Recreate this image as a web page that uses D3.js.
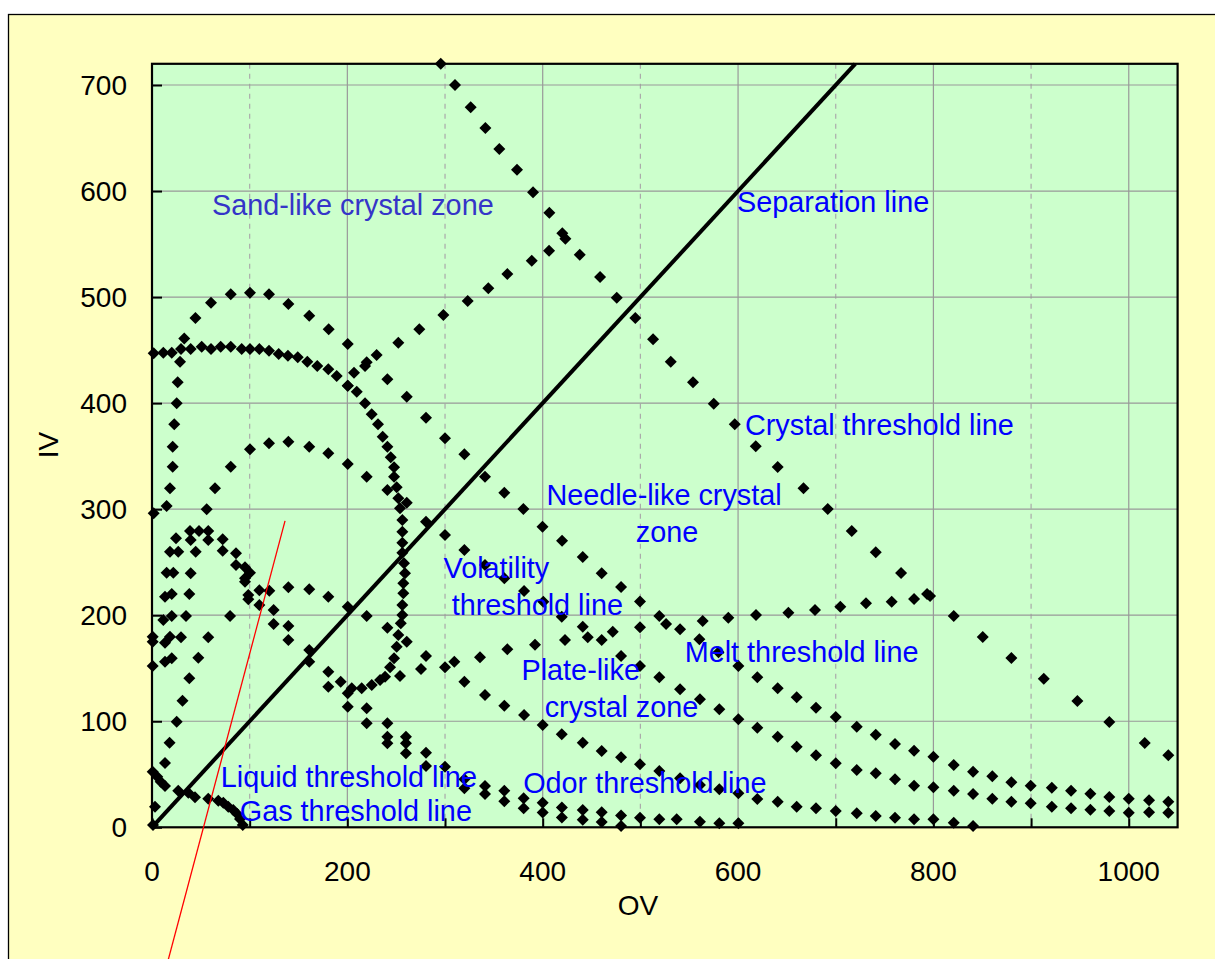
<!DOCTYPE html>
<html><head><meta charset="utf-8">
<script src="https://cdn.jsdelivr.net/npm/d3@7"></script>
<style>body{margin:0;background:#fff}svg{display:block}</style>
</head><body>
<svg id="c" width="1215" height="959"></svg>
<script>
const xTickLabels=[0,200,400,600,800,1000];
const yTickLabels=[0,100,200,300,400,500,600,700];
const xTickMarks=[0,100,200,300,400,500,600,700,800,900,1000];
const xLabel="OV", yLabel="IV";

const crystalLine=[[295.6,720],[310.2,700],[326.3,679],[341.3,659.5],[355.6,639.7],[373.7,620.1],[390.1,598.8],[406.8,579.6],[420.1,560.2],[437.9,540],[458.7,519],[475.8,499.4],[494.8,480.3],[513,460.2],[531.1,439.1],[553.9,419.7],[575.1,399.5],[596.6,380],[618.1,359.3],[640.6,339.8],[667,319.8],[691.8,300.2],[716.4,279.4],[741,259.3],[766.9,239.8],[793.5,220],[796.6,218.1],[820.8,199.3],[850.5,179.5],[879.8,159.7],[913,140.1],[947.4,119.1],[980.1,99.3],[1016.4,79.5],[1040.5,67.9]];

const needleLine=[[200.4,416.4],[206.8,428.7],[219.8,438.5],[230,445.4],[252.2,457],[273.7,469.6],[298.3,483.1],[323.2,496.3],[344.3,508.3],[363.8,521.8],[388.8,534.3],[406.5,543.7],[423.2,555.1]];

const volatilityLine=[[1.7,296.1],[15,303],[18.4,319.7],[21.2,340.1],[21.2,358.9],[22.8,380],[25.3,399.8],[26.3,419.7],[28.7,439.1],[33,461],[44.5,480.3],[60.4,494.6],[80.6,502.6],[100.3,504.2],[119.8,502.6],[139.6,493.5],[161,482.5],[180.9,469.6],[200.4,455.8],[218.1,435],[241,422.5],[260.8,406.1],[280.5,386.3],[300,366.8],[319.8,351.8],[340.9,330.6],[360.7,315.5],[380.2,300.2],[399.8,283.5],[419.8,270.3],[441,254.9],[460.4,239.5],[480.2,226.6],[499.6,213],[519.4,199.3],[540.6,186.7],[560.4,177.3],[580,165],[600.3,152.1],[619.7,141.5],[640.6,131.1],[660,122.6],[679.8,112.8],[700,104],[721.5,94.9],[741,87.3],[760.7,78.6],[780.2,72.2],[800,66.6],[820.8,58.8],[840.6,52.4],[860.3,48.1],[879.8,42.4],[899.6,39.2],[921.2,37.3],[940.9,34.5],[960.7,31.7],[980.1,28.6],[1000,27],[1020.8,25.5],[1040.5,24.1]];

const ringLine=[[1.7,447],[11.6,447.6],[20.2,447.6],[29.7,451],[39.6,451],[50.9,453.2],[60.4,451],[70.3,453.2],[80.6,453.2],[91.8,451],[100.3,451],[109.9,451],[119.8,449.5],[129.7,446.3],[139.2,444.7],[149.2,443.2],[159,439.1],[169.2,435],[180.5,431.9],[189.1,425.6],[200.4,416.4],[209.6,410.8],[218.1,399.8],[224.9,389.5],[231.4,380],[236.2,368.4],[241,358.9],[244.4,348.9],[247.8,339.5],[247.8,330.6],[250.5,320.6],[252.2,310.3],[253.9,300.8],[256.3,289.8],[256.3,278.8],[256.3,268.4],[256.3,259],[258,249],[259,239.5],[257.3,230.1],[257.3,220.7],[256.3,209.6],[256.3,200.2],[254.7,192.4],[252.2,181.3],[250.5,170.3],[247.8,159.4],[243.7,150.9],[238.6,142],[233.5,138.9],[225,134.2],[214.7,131.1],[204.5,131.1],[200.4,126.4]];

const innerLine=[[56,299.9],[64.5,319.7],[80.6,340.1],[100.3,356.5],[119.8,362.1],[139.6,363.6],[161,358.9],[180.5,352.7],[200.4,342.6],[219.8,330.6],[241,318.1],[260.8,306.1],[280.5,288.2],[300,275.6],[319.8,261.5],[340.9,247.4],[360.7,234.8],[380.9,222.8],[400.6,212.8],[419.5,198.6],[441,189.2],[460.4,176.6],[480.2,161.5],[499.6,152.1],[519.4,141.5],[540.6,130.1],[561,120.7],[580.8,111.3],[600.3,101.8],[619.7,93.9],[640.6,85.4],[660,76],[679.8,67.9],[700,60.4],[721.5,54],[741,50.9],[760.7,45.3],[780.2,39.2],[800,37.7],[820.8,34.5],[840.6,31.4],[860.3,27],[879.8,24.1],[899.6,22.6],[921.2,19.4],[940.9,17.9],[960.7,16.6],[980.1,15.4],[1000,13.8],[1020.8,14.1],[1040.5,13.8]];

const meltLine=[[253.9,142.7],[275.4,149.3],[309.5,156.2],[335.8,160.3],[363.8,167.9],[392.1,172.1],[422.8,176.6],[446.1,179.2],[471.7,184.5],[499.6,188.6],[526.3,191.7],[563.8,194.5],[590,197.7],[618.4,200.2],[651.5,202.4],[678.8,204.9],[704.7,208],[731,211.2],[757.3,212.8],[780.2,215.3]];

const plateLine=[[95.2,231.6],[109.9,223.5],[120.1,223.1],[139.6,226.3],[161,224.4],[180.5,217.5],[200.4,208],[219.8,199.3],[241,188.2],[260.8,175],[280.5,161.5],[300,150.9],[319.8,137.3],[340.9,124.8],[360.7,114.7],[380.9,105.9],[400,96.5],[419.5,87.7],[441,79.8],[460.4,72],[480.2,66],[499.6,59.4],[519.4,53.1],[540.6,46.2],[561,39.9],[580.8,35.8],[600.3,32.1],[619.7,26.7],[640.6,24.1],[660,19.4],[679.8,17.9],[700,15.4],[721.5,13.2],[741,10.7],[760.7,9.1],[780.2,7.5],[800,7.5],[820.8,4.3],[840.6,1.2]];

const odorUpper=[[98.6,219.1],[98.6,215],[109.9,209.6],[124.5,204.9],[139.6,189.8],[161,167.2],[180.5,146.7],[193.2,137.3],[219.8,112.2],[241,98.1],[260,85.4],[280.5,70.3],[300,57.1],[319.8,45.3],[340.9,38.9],[360.7,34.5],[380.5,27.3],[400,23.2],[419.6,18.7],[441,16.3],[460.4,14.2],[480.2,11.1],[499.6,9.1],[519.4,7.5],[537.2,7.5],[561,5.3],[580.8,3.8],[600.3,3.8]];

const odorLower=[[124.5,191.7],[139.6,176.6],[161,156.2],[180.5,132.6],[200.4,113.7],[219.8,98.1],[241,85.4],[241,79.2],[260,79.2],[260,69.8],[280.5,57.8],[319.8,36.8],[340.9,31.4],[360.7,24.6],[380.5,17.9],[400,13.9],[419.6,9.2],[441,7.2],[460.4,5],[480.2,1.2]];

const smallArc=[[24.6,272.5],[38.9,279.4],[48.1,279.4],[57.6,279.4],[39.6,270.9],[57.6,270.9],[72.4,271.6],[72.4,260.8],[86,258.4],[86,247.4],[95.2,245.2],[100.3,240.1],[95.2,234.8],[18.4,259.9],[26.9,259.9],[44.7,259.9],[15,240.1],[21.8,240.1],[39.6,239.5]];

const gasLine=[[13.3,217.5],[20.2,220],[38.2,220],[11.6,195.5],[20.2,199.3],[34.8,199.3],[79.9,199.3],[0.7,179.7],[0.7,175],[13.3,174.1],[18.4,179.7],[29.7,179.2],[57.6,179.2],[0.7,152.1],[13.3,156.2],[20.2,159.4],[47.4,159.9],[38.2,140.5],[31.2,119.4],[25.3,99.6],[18,79.8],[13.3,60.7]];

const liquidLine=[[0.7,52.4],[5.4,47.7],[8.9,43],[13.3,38.9],[26.9,34.5],[37.2,32.6],[44,28.3],[57.6,27],[67.9,25.1],[73,23.2],[78.1,19.4],[83.2,16.3],[87.3,12.5],[90.1,7.8],[92.9,2.2],[3.1,19.4],[1,2.2]];

const separationLine=[[0,0],[720,720]];
const redLine=[[136.2,289],[14,-134]];

const labels=[
 {t:"Sand-like crystal zone",x:61.4,y:577.4,a:"start",c:"#3535c8"},
 {t:"Separation line",x:599,y:580.2,a:"start",c:"#0000ff"},
 {t:"Crystal threshold line",x:607.1,y:370,a:"start",c:"#0000ff"},
 {t:"Needle-like crystal",x:524.2,y:303.9,a:"middle",c:"#0000ff"},
 {t:"zone",x:527.3,y:269.3,a:"middle",c:"#0000ff"},
 {t:"Volatility",x:298.5,y:235.1,a:"start",c:"#0000ff"},
 {t:"threshold line",x:306.8,y:200.2,a:"start",c:"#0000ff"},
 {t:"Plate-like",x:378.3,y:138.9,a:"start",c:"#0000ff"},
 {t:"crystal zone",x:402,y:104.3,a:"start",c:"#0000ff"},
 {t:"Melt threshold line",x:545.4,y:156.2,a:"start",c:"#0000ff"},
 {t:"Liquid threshold line",x:70.4,y:38.3,a:"start",c:"#0000ff"},
 {t:"Gas threshold line",x:89.9,y:6.2,a:"start",c:"#0000ff"},
 {t:"Odor threshold line",x:380,y:32.1,a:"start",c:"#0000ff"}
];

const svg=d3.select("#c");
const L=152,T=63.8,R=1177.6,B=827.3;
const x=d3.scaleLinear().domain([0,1050]).range([L,R]);
const y=d3.scaleLinear().domain([0,720]).range([B,T]);
const font="'Liberation Sans', Arial, sans-serif";

svg.append("rect").attr("x",8.5).attr("y",14.5).attr("width",1230).attr("height",980)
  .attr("fill","#ffffc0").attr("stroke","#000").attr("stroke-width",1.3);
svg.append("rect").attr("x",L).attr("y",T).attr("width",R-L).attr("height",B-T).attr("fill","#ccffcc");

const g=svg.append("g");
g.selectAll(".vg").data(d3.range(100,1050,100)).join("line")
  .attr("x1",d=>x(d)).attr("x2",d=>x(d)).attr("y1",T).attr("y2",B)
  .attr("stroke",d=>d%200===0?"#999":"#aaa").attr("stroke-width",1.2)
  .attr("stroke-dasharray",d=>d%200===0?null:"5,5");
g.selectAll(".hg").data(d3.range(100,720,100)).join("line")
  .attr("x1",L).attr("x2",R).attr("y1",d=>y(d)).attr("y2",d=>y(d))
  .attr("stroke","#999").attr("stroke-width",1.2);

const xa=svg.append("g").attr("transform",`translate(0,${B})`)
  .call(d3.axisBottom(x).tickValues(xTickMarks).tickSizeInner(-9).tickSizeOuter(0).tickFormat(""));
xa.select(".domain").remove();
xa.selectAll("line").attr("stroke","#000").attr("stroke-width",2);
svg.append("g").selectAll("text").data(xTickLabels).join("text")
  .attr("x",d=>x(d)).attr("y",881).attr("text-anchor","middle")
  .attr("font-family",font).attr("font-size",28).attr("fill","#000").text(d=>d);

const ya=svg.append("g").attr("transform",`translate(${L},0)`)
  .call(d3.axisLeft(y).tickValues(yTickLabels).tickSizeInner(-10).tickSizeOuter(0).tickFormat(""));
ya.select(".domain").remove();
ya.selectAll("line").attr("stroke","#000").attr("stroke-width",2);
svg.append("g").selectAll("text").data(yTickLabels).join("text")
  .attr("x",127).attr("y",d=>y(d)+10).attr("text-anchor","end")
  .attr("font-family",font).attr("font-size",28).attr("fill","#000").text(d=>d);

svg.append("rect").attr("x",L).attr("y",T).attr("width",R-L).attr("height",B-T)
  .attr("fill","none").attr("stroke","#000").attr("stroke-width",2.2);

svg.append("text").attr("x",638).attr("y",915).attr("text-anchor","middle")
  .attr("font-family",font).attr("font-size",28).text(xLabel);
svg.append("text").attr("transform","translate(58,445) rotate(-90)").attr("text-anchor","middle")
  .attr("font-family",font).attr("font-size",28).text(yLabel);

const line=d3.line().x(d=>x(d[0])).y(d=>y(d[1]));
svg.append("path").attr("d",line(separationLine)).attr("stroke","#000").attr("stroke-width",4).attr("fill","none");

const series=[crystalLine,needleLine,volatilityLine,ringLine,innerLine,meltLine,plateLine,odorUpper,odorLower,smallArc,gasLine,liquidLine];
const diamond="M0,-6L6,0L0,6L-6,0Z";
series.forEach(s=>{
  svg.append("g").selectAll("path").data(s).join("path")
    .attr("d",diamond).attr("transform",d=>`translate(${x(d[0])},${y(d[1])})`).attr("fill","#000");
});

svg.append("path").attr("d",line(redLine)).attr("stroke","#ff0000").attr("stroke-width",1.3).attr("fill","none");

svg.append("g").selectAll("text").data(labels).join("text")
  .attr("x",d=>x(d.x)).attr("y",d=>y(d.y)).attr("text-anchor",d=>d.a)
  .attr("font-family",font).attr("font-size",28.8).attr("fill",d=>d.c).text(d=>d.t);
</script>
</body></html>
